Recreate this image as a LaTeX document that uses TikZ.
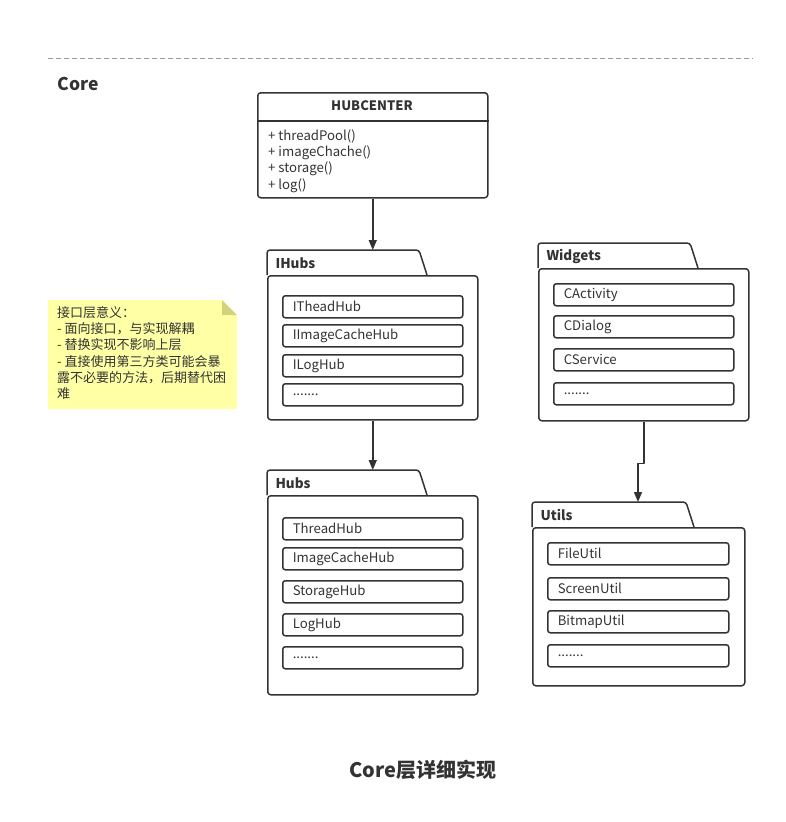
\documentclass[tikz,border=0pt]{standalone}
\usepackage{fontspec}
\setmainfont{Noto Sans CJK SC}
\usetikzlibrary{positioning,arrows.meta}
\definecolor{linec}{HTML}{333333}
\definecolor{notey}{HTML}{FFFFA6}
\definecolor{notefold}{HTML}{D2D27A}
\newcommand{\moredots}{.......}
\tikzset{
	item/.style={draw=linec, line width=1.5pt, rounded corners=2.5pt, anchor=north west, minimum width=180pt, minimum height=22pt, inner xsep=10pt, inner ysep=0pt, text width=160pt, align=left, font=\fontsize{13.2}{15}\selectfont},
	pkgbody/.style={draw=linec, line width=1.5pt, rounded corners=3pt, anchor=north west, inner sep=0pt},
	pkgtab/.style={draw=linec, line width=1.5pt, rounded corners=3pt},
	pkgtitle/.style={anchor=west, font=\bfseries\fontsize{13.5}{15}\selectfont},
	link/.style={draw=linec, line width=1.5pt, -{Triangle[length=10pt,width=8pt]}},
}
\begin{document}
\begin{tikzpicture}[x=1pt, y=-1pt, text=linec, line join=round]
	\useasboundingbox (0,0) rectangle (785,822);
	\draw[gray!80, dash pattern=on 5pt off 3pt] (48,58) -- (753,58); % đường kẻ đứt
	\node[anchor=west, font=\bfseries\fontsize{17.5}{19}\selectfont] (core) at (54,84) {Core};
	% HUBCENTER
	\node[pkgbody, minimum width=230pt, minimum height=105pt] (hub) at (257,92) {};
	\draw[linec, line width=1.5pt] ([yshift=-29pt]hub.north west) -- ([yshift=-29pt]hub.north east);
	\node[font=\bfseries\fontsize{13}{15}\selectfont] (hubT) at (372,106) {HUBCENTER};
	\node[anchor=north west, align=left, inner sep=0pt, font=\fontsize{13.2}{16.4}\selectfont] (hubM) at (268,129) {+ threadPool()\\+ imageChache()\\+ storage()\\+ log()};
	% IHubs
	\node[pkgbody, minimum width=210pt, minimum height=144pt] (ihubs) at (267,275) {};
	\draw[pkgtab] (ihubs.north west) -- ++(0,-25) coordinate (ihubstab) -- ++(152,0) -- ++(8,25);
	\node[pkgtitle] (ihubsT) at (272,263) {IHubs};
	\foreach \y/\t [count=\i] in {295/ITheadHub,324/IImageCacheHub,354/ILogHub,383/\moredots}
	\node[item] (ih\i) at (282,\y) {\t};
	% Hubs
	\node[pkgbody, minimum width=210pt, minimum height=199pt] (hubs) at (267,495) {};
	\draw[pkgtab] (hubs.north west) -- ++(0,-25) coordinate (hubstab) -- ++(152,0) -- ++(8,25);
	\node[pkgtitle] (hubsT) at (272,483) {Hubs};
	\foreach \y/\t [count=\i] in {517/ThreadHub,547/ImageCacheHub,580/StorageHub,613/LogHub,646/\moredots}
	\node[item] (h\i) at (282,\y) {\t};
	% Widgets
	\node[pkgbody, minimum width=210pt, minimum height=152pt] (widgets) at (538,268) {};
	\draw[pkgtab] (widgets.north west) -- ++(0,-25) -- ++(152,0) -- ++(8,25);
	\node[pkgtitle] (widgetsT) at (543,256) {Widgets};
	\foreach \y/\t [count=\i] in {283/CActivity,315/CDialog,348/CService,382/\moredots}
	\node[item] (w\i) at (553,\y) {\t};
	% Utils
	\node[pkgbody, minimum width=212pt, minimum height=158pt] (utils) at (532,527) {};
	\draw[pkgtab] (utils.north west) -- ++(0,-25) -- ++(154,0) -- ++(8,25);
	\node[pkgtitle] (utilsT) at (537,515) {Utils};
	\coordinate (utilstab) at (638,502);
	\foreach \y/\t [count=\i] in {542/FileUtil,577/ScreenUtil,610/BitmapUtil,644/\moredots}
	\node[item, minimum width=181pt, text width=161pt] (u\i) at (547,\y) {\t};
	% mũi tên
	\draw[link] (hub.south) -- (hub.south |- ihubstab);
	\draw[link] (ihubs.south -| hub.south) -- (hub.south |- hubstab);
	\draw[link] (widgets.south) -- ++(0,42) -| (utilstab);
	% ghi chú
	\fill[notey] (48,300) -- (222,300) -- (237,315) -- (237,409) -- (48,409) -- cycle;
	\fill[notefold] (222,300) -- (222,315) -- (237,315) -- cycle;
	\node[anchor=north west, align=left, inner sep=0pt, font=\fontsize{13}{16.3}\selectfont] (note) at (57,306) {接口层意义：\\- 面向接口，与实现解耦\\- 替换实现不影响上层\\- 直接使用第三方类可能会暴\\露不必要的方法，后期替代困\\难};
	\node[font=\bfseries\fontsize{20}{22}\selectfont] (caption) at (423,770) {Core层详细实现};
\end{tikzpicture}
\end{document}
